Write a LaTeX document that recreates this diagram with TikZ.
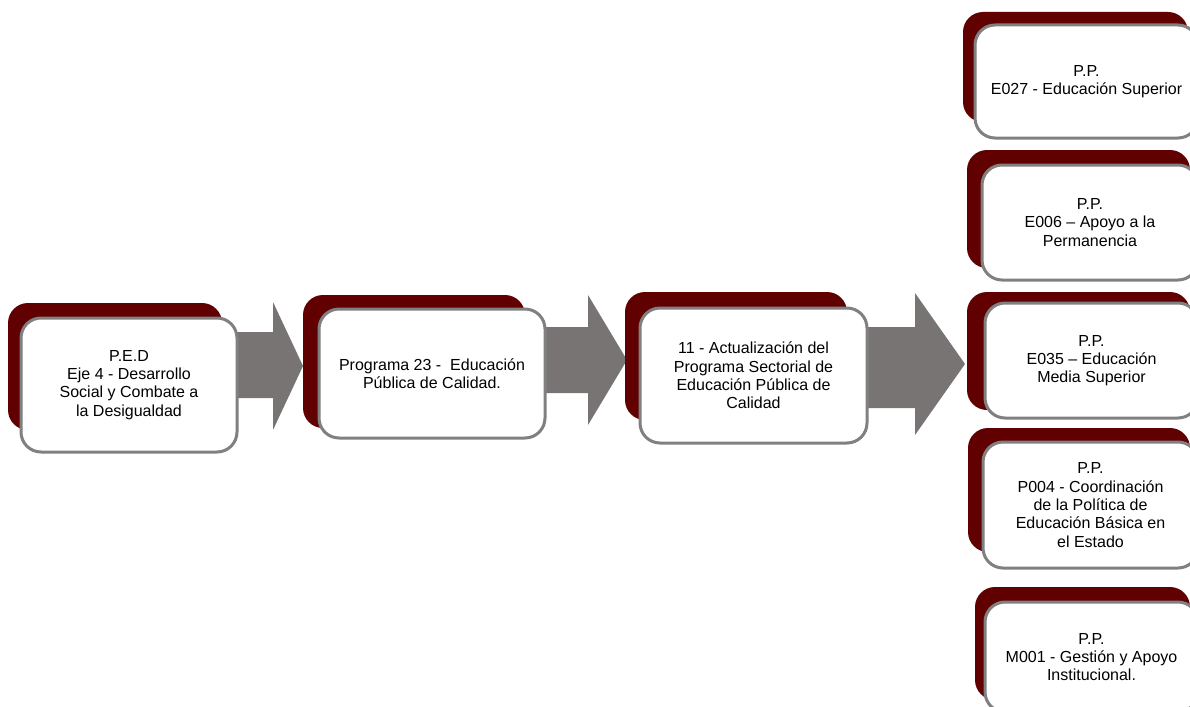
\documentclass[tikz,border=0pt]{standalone}
\usepackage{fontspec}
\setmainfont{Liberation Sans}
\definecolor{darkred}{HTML}{600000}
\definecolor{arrowgray}{HTML}{787473}
\definecolor{bordergray}{HTML}{808080}
\begin{document}
\begin{tikzpicture}[x=1pt,y=-1pt,
  back/.style={fill=darkred, rounded corners=20pt},
  front/.style={draw=bordergray, line width=3pt, fill=white, rounded corners=20pt,
    align=center, font=\fontsize{16}{18.3}\selectfont, text=black, inner sep=0pt},
  blockarrow/.style={fill=arrowgray}]
\useasboundingbox (0,0) rectangle (1190,706);
\clip (0,0) rectangle (1190,706);

% block arrows
\path[blockarrow] (230,332) -- (273,332) -- (273,302) -- (303,366) -- (273,430) -- (273,398) -- (230,398) -- cycle;
\path[blockarrow] (540,327) -- (588,327) -- (588,295) -- (627,360) -- (588,425) -- (588,393) -- (540,393) -- cycle;
\path[blockarrow] (860,327) -- (915,327) -- (915,293) -- (965,364) -- (915,435) -- (915,408) -- (860,408) -- cycle;

% box 1
\path[back] (8,303) rectangle (222,430);
\node[front, minimum width=216pt, minimum height=134pt] (b1) at (129,385)
  {P.E.D\\Eje 4 - Desarrollo\\Social y Combate a\\la Desigualdad};

% box 2
\path[back] (303,295) rectangle (525,428);
\node[front, minimum width=226pt, minimum height=129pt] (b2) at (432,373.5)
  {Programa 23 -\ \ Educación\\Pública de Calidad.};

% box 3
\path[back] (625,292) rectangle (847,420);
\node[front, minimum width=227pt, minimum height=135pt] (b3) at (753.5,375.5)
  {11 - Actualización del\\Programa Sectorial de\\Educación Pública de\\Calidad};

% right column
\path[back] (963,12) rectangle (1188,122);
\node[front, minimum width=223pt, minimum height=113pt] (pa) at (1086.5,81.5)
  {P.P.\\E027 - Educación Superior};

\path[back] (967,150) rectangle (1190,268);
\node[front, minimum width=216pt, minimum height=115pt] (pb) at (1090,222.5)
  {P.P.\\E006 -- Apoyo a la\\Permanencia};

\path[back] (967,292) rectangle (1190,410);
\node[front, minimum width=213pt, minimum height=115pt] (pc) at (1091.5,360.5)
  {P.P.\\E035 -- Educación\\Media Superior};

\path[back] (968,428) rectangle (1190,552);
\node[front, minimum width=215pt, minimum height=126pt] (pd) at (1090.5,505)
  {P.P.\\P004 - Coordinación\\de la Política de\\Educación Básica en\\el Estado};

\path[back] (975,587) rectangle (1190,700);
\node[front, minimum width=213pt, minimum height=110pt] (pe) at (1091.5,657)
  {P.P.\\M001 - Gestión y Apoyo\\Institucional.};
\end{tikzpicture}
\end{document}
